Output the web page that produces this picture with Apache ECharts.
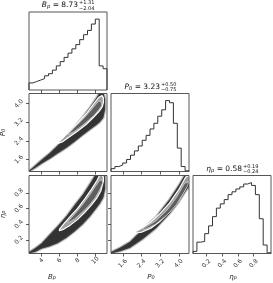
<!DOCTYPE html>
<html><head><meta charset="utf-8">
<script src="https://cdn.jsdelivr.net/npm/echarts@6/dist/echarts.min.js"></script>
<style>html,body{margin:0;padding:0;background:#fff}#c{width:273px;height:283px}</style>
</head><body><div id="c"></div>
<script>
// ---- axis ranges & ticks ----
const rangeB = [2.6, 11.3];
const rangeP = [1.09, 4.44];
const rangeE = [0.03, 1.02];
const ticksB = [4, 6, 8, 10];
const ticksP = [1.6, 2.4, 3.2, 4.0];
const ticksE = [0.2, 0.4, 0.6, 0.8];

// ---- 1D histograms (relative heights, 20 bins) ----
const histB = [0.10,0.12,0.14,0.16,0.20,0.23,0.28,0.34,0.40,0.46,0.52,0.58,0.64,0.71,0.78,0.84,0.93,1.00,0.34,0.30];
const histP = [0.04,0.07,0.09,0.12,0.17,0.23,0.29,0.36,0.44,0.51,0.60,0.68,0.78,0.87,1.00,0.97,0.68,0.33,0.07,0.01];
const histE = [0.03,0.16,0.17,0.28,0.39,0.52,0.64,0.70,0.76,0.83,0.87,0.91,0.94,0.98,1.00,0.96,0.83,0.49,0.12,0.01];

// ---- 2D: B_p vs P_0 (sample cloud extent, outer and inner contours) ----
const bpX   = [2.6,3.3,4.0,4.9,5.8,6.8,7.7,8.6,9.4,10.1,10.5,10.9,11.1];
const bpLo  = [1.08,1.24,1.42,1.63,1.86,2.11,2.37,2.65,2.88,3.08,3.20,3.40,3.75];
const bpHi  = [1.12,1.36,1.60,1.88,2.22,2.62,3.02,3.44,3.85,4.25,4.50,4.50,4.20];
const bpC2X = [5.8,6.3,7.0,8.0,9.0,9.8,10.4,10.75,10.9];
const bpC2Lo= [2.30,2.36,2.55,2.82,3.12,3.42,3.66,3.85,4.05];
const bpC2Hi= [2.33,2.50,2.78,3.17,3.58,3.98,4.28,4.35,4.25];
const bpC1X = [7.0,7.6,8.4,9.2,9.9,10.4,10.7];
const bpC1Lo= [2.68,2.80,3.02,3.28,3.52,3.75,3.92];
const bpC1Hi= [2.70,2.95,3.25,3.58,3.90,4.12,4.05];

// ---- 2D: B_p vs eta_p ----
const beX   = [2.6,3.3,4.0,4.9,5.8,6.8,7.7,8.6,9.4,10.1,10.5,10.9,11.1];
const beLo  = [0.03,0.05,0.09,0.12,0.16,0.23,0.31,0.40,0.50,0.60,0.66,0.74,0.85];
const beHi  = [0.05,0.10,0.16,0.27,0.38,0.51,0.65,0.78,0.92,1.05,1.10,1.10,1.00];
const beC2X = [6.0,6.5,7.2,8.0,8.8,9.6,10.2,10.6,10.9];
const beC2Lo= [0.32,0.34,0.39,0.46,0.55,0.65,0.74,0.82,0.95];
const beC2Hi= [0.34,0.41,0.50,0.60,0.72,0.85,0.96,1.05,1.00];
const beC1X = [7.0,7.7,8.5,9.3,10.0,10.5,10.8];
const beC1Lo= [0.42,0.47,0.55,0.64,0.74,0.84,0.92];
const beC1Hi= [0.44,0.53,0.64,0.76,0.88,0.96,0.96];

// ---- 2D: P_0 vs eta_p ----
const peX   = [1.09,1.5,1.9,2.45,3.03,3.6,4.0,4.3,4.5];
const peLo  = [0.03,0.06,0.10,0.21,0.35,0.53,0.68,0.82,0.90];
const peHi  = [0.05,0.11,0.18,0.34,0.50,0.72,0.90,1.05,1.05];
const peC2X = [2.15,2.4,2.8,3.2,3.6,4.0,4.3,4.45];
const peC2Lo= [0.29,0.30,0.35,0.44,0.56,0.70,0.86,0.95];
const peC2Hi= [0.31,0.35,0.43,0.54,0.67,0.84,1.00,1.02];
const peC1X = [2.5,3.0,3.5,3.9,4.25,4.4];
const peC1Lo= [0.33,0.40,0.52,0.65,0.82,0.90];
const peC1Hi= [0.35,0.44,0.58,0.74,0.92,0.94];

// ---- titles ----
const titleVals = [
  {sym:'B', sub:'p', val:'8.73', up:'+1.31', dn:'\u22122.04'},
  {sym:'P', sub:'0', val:'3.23', up:'+0.50', dn:'\u22120.75'},
  {sym:'\u03b7', sub:'p', val:'0.58', up:'+0.19', dn:'\u22120.24'}
];

const FONT = 'DejaVu Sans';
const L = [29, 111, 193], T = [12, 93.5, 175.5], S = 78;
const AX = {
  B: {range: rangeB, ticks: ticksB, fmt: v => String(v), margin: 7},
  P: {range: rangeP, ticks: ticksP, fmt: v => v.toFixed(1), margin: 10},
  E: {range: rangeE, ticks: ticksE, fmt: v => v.toFixed(1), margin: 10}
};
const panels = [
  {r:0, c:0, x:'B', y:null, h:histB},
  {r:1, c:0, x:'B', y:'P'},
  {r:1, c:1, x:'P', y:null, h:histP},
  {r:2, c:0, x:'B', y:'E'},
  {r:2, c:1, x:'P', y:'E'},
  {r:2, c:2, x:'E', y:null, h:histE}
];
const bands = {
  '1-0': [[bpX,bpLo,bpHi],[bpC2X,bpC2Lo,bpC2Hi],[bpC1X,bpC1Lo,bpC1Hi]],
  '2-0': [[beX,beLo,beHi],[beC2X,beC2Lo,beC2Hi],[beC1X,beC1Lo,beC1Hi]],
  '2-1': [[peX,peLo,peHi],[peC2X,peC2Lo,peC2Hi],[peC1X,peC1Lo,peC1Hi]]
};
const layerStyles = [
  {fill:'#333333', stroke:'rgba(80,80,80,0.35)', lineWidth:2.2, lineJoin:'round'},
  {fill:'#a0a0a0', stroke:'#ffffff', lineWidth:1.2, lineJoin:'round'},
  {fill:'#5e5e5e', stroke:'#e8e8e8', lineWidth:0.6, lineJoin:'round'}
];

function stepData(h, r) {
  const n = h.length, w = (r[1] - r[0]) / n;
  const d = [[r[0], 0]];
  for (let i = 0; i < n; i++) d.push([r[0] + i * w, h[i]]);
  d.push([r[1], h[n - 1]]);
  d.push([r[1], 0]);
  return d;
}
function bandPts(api, xs, lo, hi) {
  const a = [];
  for (let i = 0; i < xs.length; i++) a.push(api.coord([xs[i], lo[i]]));
  for (let i = xs.length - 1; i >= 0; i--) a.push(api.coord([xs[i], hi[i]]));
  return a;
}

const grid = [], xAxis = [], yAxis = [], series = [], graphic = [];
panels.forEach((p, i) => {
  grid.push({left: L[p.c], top: T[p.r], width: S, height: S, show: false});
  const ax = AX[p.x], bottom = p.r === 2;
  xAxis.push({
    gridIndex: i, type: 'value', min: ax.range[0], max: ax.range[1],
    axisLine: {show: false}, splitLine: {show: false},
    axisTick: {show: true, length: 3, customValues: ax.ticks, lineStyle: {color: '#333', width: 0.8}},
    axisLabel: {show: bottom, customValues: ax.ticks, formatter: ax.fmt, rotate: 45,
      align: 'center', verticalAlign: 'middle', margin: ax.margin,
      fontSize: 6, fontFamily: FONT, color: '#333'}
  });
  if (p.y) {
    const ay = AX[p.y], left = p.c === 0;
    yAxis.push({
      gridIndex: i, type: 'value', min: ay.range[0], max: ay.range[1],
      axisLine: {show: false}, splitLine: {show: false},
      axisTick: {show: true, length: 3, customValues: ay.ticks, lineStyle: {color: '#333', width: 0.8}},
      axisLabel: {show: left, customValues: ay.ticks, formatter: ay.fmt, rotate: 45,
        align: 'center', verticalAlign: 'middle', margin: 10,
        fontSize: 6, fontFamily: FONT, color: '#333'}
    });
    const layers = bands[p.r + '-' + p.c];
    const mid = [(ax.range[0] + ax.range[1]) / 2, (ay.range[0] + ay.range[1]) / 2];
    series.push({
      type: 'custom', xAxisIndex: i, yAxisIndex: i, clip: true, silent: true,
      data: [mid],
      renderItem: (params, api) => ({
        type: 'group',
        children: layers.map((l, k) => ({
          type: 'polygon',
          shape: {points: bandPts(api, l[0], l[1], l[2])},
          style: layerStyles[k]
        }))
      })
    });
  } else {
    yAxis.push({gridIndex: i, type: 'value', min: 0, max: 1.1,
      axisLine: {show: false}, axisTick: {show: false}, axisLabel: {show: false}, splitLine: {show: false}});
    series.push({
      type: 'line', xAxisIndex: i, yAxisIndex: i, step: 'end', showSymbol: false, silent: true,
      clip: true, data: stepData(p.h, ax.range),
      lineStyle: {color: '#333', width: 1}
    });
  }
  graphic.push({type: 'rect', z: 100, silent: true,
    shape: {x: L[p.c], y: T[p.r], width: S, height: S},
    style: {fill: 'none', stroke: '#444', lineWidth: 0.9}});
});

// titles above diagonal panels
titleVals.forEach((t, k) => {
  const cx = L[k] + S / 2, y = T[k] - 6.5;
  graphic.push({type: 'text', x: cx + 10, y: y, z: 100, style: {
    text: '{s|' + t.sym + '}{b|' + t.sub + '}{n| = ' + t.val + '}',
    align: 'right', verticalAlign: 'middle', fill: '#111',
    rich: {
      s: {fontFamily: FONT, fontStyle: 'italic', fontSize: 7.5, fill: '#111'},
      b: {fontFamily: FONT, fontStyle: 'italic', fontSize: 5.2, fill: '#111', verticalAlign: 'bottom'},
      n: {fontFamily: FONT, fontSize: 7.5, fill: '#111'}
    }}});
  graphic.push({type: 'text', x: cx + 11, y: y - 2.6, z: 100, style: {
    text: t.up, align: 'left', verticalAlign: 'middle', fontFamily: FONT, fontSize: 5, fill: '#111'}});
  graphic.push({type: 'text', x: cx + 11, y: y + 2.8, z: 100, style: {
    text: t.dn, align: 'left', verticalAlign: 'middle', fontFamily: FONT, fontSize: 5, fill: '#111'}});
});

// axis names
const nameRich = {
  s: {fontFamily: FONT, fontStyle: 'italic', fontSize: 7, fill: '#222'},
  b: {fontFamily: FONT, fontStyle: 'italic', fontSize: 5, fill: '#222', verticalAlign: 'bottom'}
};
[['B','p',52],['P','0',151],['\u03b7','p',233]].forEach(n => {
  graphic.push({type: 'text', x: n[2], y: 277, z: 100, style: {
    text: '{s|' + n[0] + '}{b|' + n[1] + '}', align: 'center', verticalAlign: 'middle', rich: nameRich}});
});
[['P','0',T[1] + S / 2],['\u03b7','p',T[2] + S / 2]].forEach(n => {
  graphic.push({type: 'text', x: 3, y: n[2], rotation: Math.PI / 2, z: 100, style: {
    text: '{s|' + n[0] + '}{b|' + n[1] + '}', align: 'center', verticalAlign: 'middle', rich: nameRich}});
});

const chart = echarts.init(document.getElementById('c'), null, {renderer: 'canvas'});
chart.setOption({animation: false, backgroundColor: '#fff', grid, xAxis, yAxis, series, graphic});
</script>
</body></html>
